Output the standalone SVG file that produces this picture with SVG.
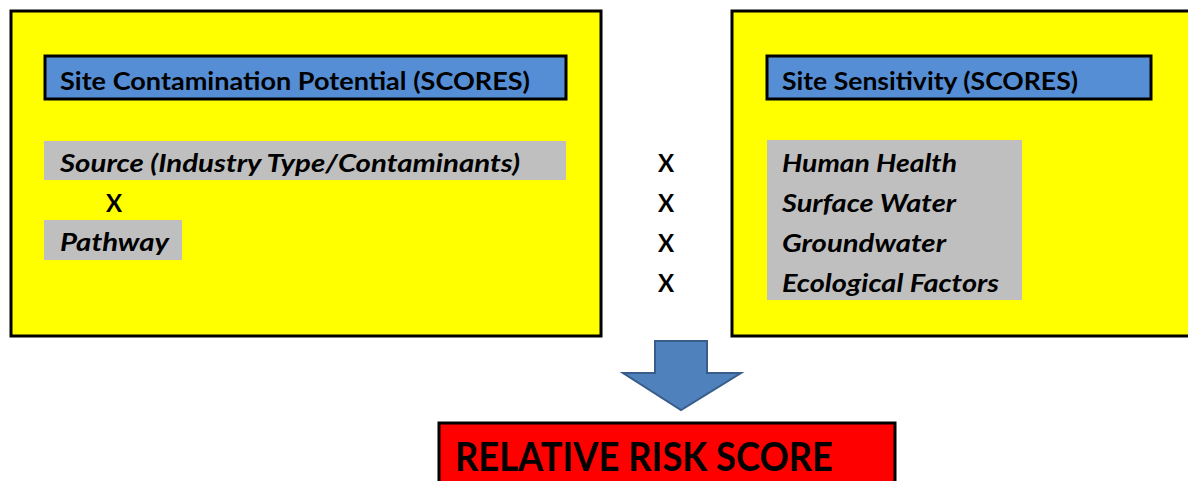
<svg xmlns="http://www.w3.org/2000/svg" width="1188" height="481" viewBox="0 0 1188 481">
<style>
.panel{fill:#ffff00;stroke:#000;stroke-width:3}
.hdr{fill:#558ed5;stroke:#000;stroke-width:3}
.bar{fill:#bfbfbf}
.t{font-family:Lato,"Open Sans",sans-serif;font-weight:bold;fill:#000}
.h{font-size:25px}
.i{font-size:25px;font-style:italic}
.x{font-size:24px}
</style>
<rect width="1188" height="481" fill="#fff"/>
<g id="site-contamination">
<rect class="panel" x="11" y="11" width="590" height="325"/>
<rect class="hdr" x="45" y="56" width="521" height="43"/>
<text class="t h" x="60" y="90" textLength="470" lengthAdjust="spacingAndGlyphs">Site Contamination Potential (SCORES)</text>
<rect class="bar" x="44" y="141" width="522" height="39"/>
<text class="t i" x="60" y="172" textLength="460" lengthAdjust="spacingAndGlyphs">Source (Industry Type/Contaminants)</text>
<text class="t x" x="106" y="212">X</text>
<rect class="bar" x="44" y="220" width="138" height="40"/>
<text class="t i" x="60" y="251" textLength="109" lengthAdjust="spacingAndGlyphs">Pathway</text>
</g>
<g id="multipliers">
<text class="t x" x="658" y="172">X</text>
<text class="t x" x="658" y="212">X</text>
<text class="t x" x="658" y="252">X</text>
<text class="t x" x="658" y="292">X</text>
</g>
<g id="site-sensitivity">
<rect class="panel" x="732" y="11" width="470" height="325"/>
<rect class="hdr" x="767" y="56" width="384" height="43"/>
<text class="t h" x="782" y="90" textLength="296" lengthAdjust="spacingAndGlyphs">Site Sensitivity (SCORES)</text>
<rect class="bar" x="767" y="140" width="255" height="160"/>
<text class="t i" x="782" y="172" textLength="175" lengthAdjust="spacingAndGlyphs">Human Health</text>
<text class="t i" x="782" y="212" textLength="174" lengthAdjust="spacingAndGlyphs">Surface Water</text>
<text class="t i" x="782" y="252" textLength="164" lengthAdjust="spacingAndGlyphs">Groundwater</text>
<text class="t i" x="782" y="292" textLength="217" lengthAdjust="spacingAndGlyphs">Ecological Factors</text>
</g>
<g id="connectors">
<path d="M655,341 H707 V373 H741 L681,410 L623,373 H655 Z" fill="#4f81bd" stroke="#385d8a" stroke-width="2"/>
</g>
<g id="relative-risk-score">
<rect x="439" y="423" width="456" height="70" fill="#ff0000" stroke="#000" stroke-width="3"/>
<text class="t" x="455" y="471" font-size="40" textLength="378" lengthAdjust="spacingAndGlyphs">RELATIVE RISK SCORE</text>
</g>
</svg>
